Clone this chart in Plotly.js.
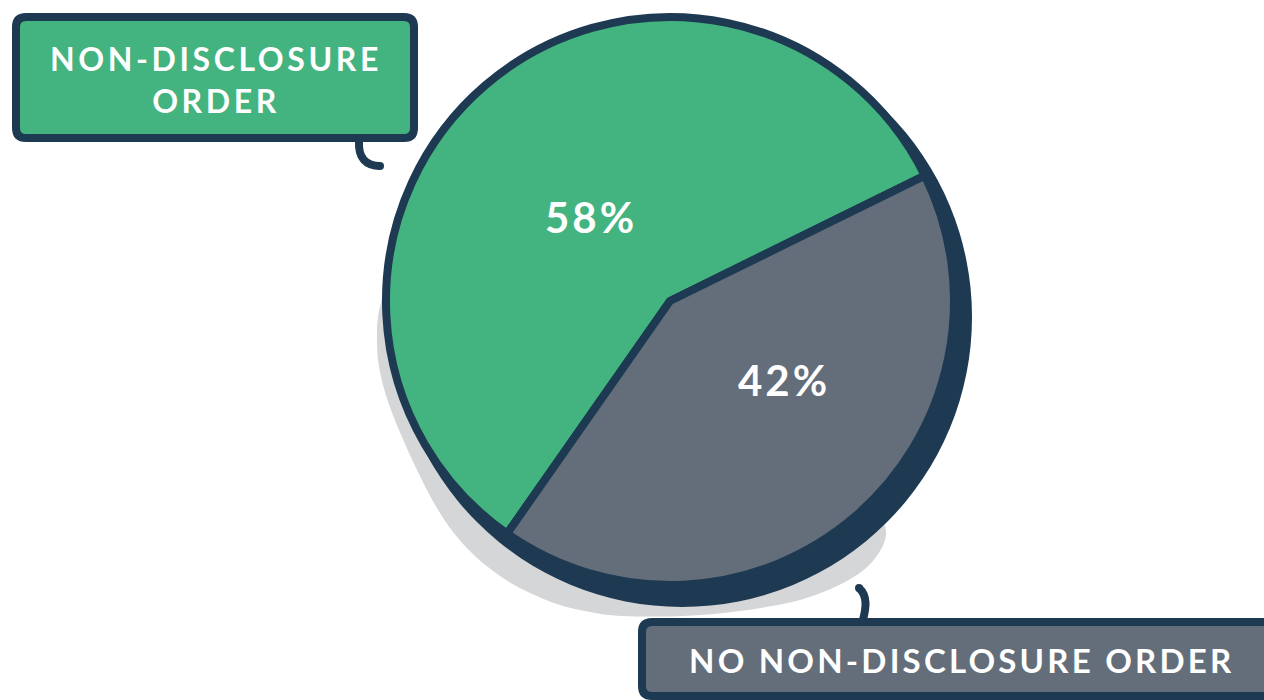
<!DOCTYPE html>
<html>
<head>
<meta charset="utf-8">
<script src="https://cdn.plot.ly/plotly-3.0.1.min.js"></script>
<style>
  html, body { margin: 0; padding: 0; background: #ffffff; }
  #chart { width: 1264px; height: 700px; }
</style>
</head>
<body>
<div id="chart"></div>
<script>
// ---- data ----
const categories = ["Non-disclosure order", "No non-disclosure order"];
const values = [58, 42];
const sliceColors = ["#43b47f", "#636e7a"];
const boxLabels = ["NON-DISCLOSURE<br>ORDER", "NO NON-DISCLOSURE ORDER"];

// ---- styling helpers ----
const W = 1264, H = 700;
const NAVY = "#1e3a52";
const px = x => x / W;
const py = y => 1 - y / H;
const pt = p => `${px(p[0])},${py(p[1])}`;

function roundRect(x0, y0, x1, y1, r) {
  return `M ${px(x0 + r)},${py(y0)} L ${px(x1 - r)},${py(y0)} ` +
    `Q ${px(x1)},${py(y0)} ${px(x1)},${py(y0 + r)} L ${px(x1)},${py(y1 - r)} ` +
    `Q ${px(x1)},${py(y1)} ${px(x1 - r)},${py(y1)} L ${px(x0 + r)},${py(y1)} ` +
    `Q ${px(x0)},${py(y1)} ${px(x0)},${py(y1 - r)} L ${px(x0)},${py(y0 + r)} ` +
    `Q ${px(x0)},${py(y0)} ${px(x0 + r)},${py(y0)} Z`;
}
function circ(cx, cy, r, color, layer) {
  return { type: "circle", xref: "paper", yref: "paper", layer: layer,
    x0: px(cx - r), x1: px(cx + r), y0: py(cy + r), y1: py(cy - r),
    fillcolor: color, line: { width: 0 } };
}
function spaced(t, ls) {
  return t.split("<br>").map(s => `<span style="letter-spacing:${ls}px">${s}</span>`).join("<br>");
}
function smoothPath(p) {
  let d = "M " + pt(p[0]);
  for (let i = 0; i < p.length - 1; i++) {
    const a = p[Math.max(i - 1, 0)], b = p[i], c = p[i + 1], e = p[Math.min(i + 2, p.length - 1)];
    const c1 = [b[0] + (c[0] - a[0]) / 6, b[1] + (c[1] - a[1]) / 6];
    const c2 = [c[0] - (e[0] - b[0]) / 6, c[1] - (e[1] - b[1]) / 6];
    d += ` C ${pt(c1)} ${pt(c2)} ${pt(c)}`;
  }
  return d;
}

// pie geometry (pixels)
const CX = 670, CY = 301, R = 284;

// soft drop-shadow outline (decoration, pixels)
const shadowPts = [[395,240],[384,290],[378,317],[377,337],[378,360],[383,385],[391,410],[402,437],[417,470],
  [434,503],[453,532],[476,557],[503,578],[530,593],[560,605],[590,612],[622,616],[683,616],
  [740,611],[800,600],[845,582],[872,562],[886,535],[878,505]];
const shadowPath = smoothPath(shadowPts) + ` L ${pt([700, 320])} Z`;

const trace = {
  type: "pie",
  labels: categories,
  values: values,
  sort: false,
  direction: "clockwise",
  rotation: -145,
  marker: { colors: sliceColors, line: { color: NAVY, width: 8 } },
  textinfo: "none",
  hoverinfo: "skip",
  domain: { x: [px(CX - R), px(CX + R)], y: [py(CY + R), py(CY - R)] }
};

const shapes = [
  { type: "path", xref: "paper", yref: "paper", layer: "below",
    path: shadowPath, fillcolor: "#d5d6d8", line: { width: 0 } },
  circ(682, 317, 290, NAVY, "below"),
  // green callout
  { type: "path", xref: "paper", yref: "paper", layer: "above",
    path: roundRect(16, 17, 414, 138, 10), fillcolor: sliceColors[0], line: { color: NAVY, width: 8 } },
  { type: "path", xref: "paper", yref: "paper", layer: "above",
    path: `M ${px(359)},${py(141)} C ${px(358)},${py(158)} ${px(366)},${py(166)} ${px(380)},${py(166)}`,
    line: { color: NAVY, width: 8 } },
  circ(380, 166, 4, NAVY, "above"),
  // gray callout
  { type: "path", xref: "paper", yref: "paper", layer: "above",
    path: roundRect(642, 622, 1290, 696, 10), fillcolor: sliceColors[1], line: { color: NAVY, width: 8 } },
  { type: "path", xref: "paper", yref: "paper", layer: "above",
    path: `M ${px(863)},${py(620)} C ${px(866)},${py(608)} ${px(868)},${py(596)} ${px(859)},${py(588)}`,
    line: { color: NAVY, width: 8 } },
  circ(859, 588, 4, NAVY, "above")
];

const font = (size) => ({ family: "Lato, 'Open Sans', sans-serif", size: size, color: "#ffffff", weight: 700 });

const annotations = [
  { xref: "paper", yref: "paper", x: px(216), y: py(79), xanchor: "center", yanchor: "middle",
    text: spaced(boxLabels[0], 3.6), showarrow: false, font: font(32) },
  { xref: "paper", yref: "paper", x: px(962), y: py(660), xanchor: "center", yanchor: "middle",
    text: spaced(boxLabels[1], 3.2), showarrow: false, font: font(33) },
  { xref: "paper", yref: "paper", x: px(591), y: py(217), xanchor: "center", yanchor: "middle",
    text: spaced(values[0] + "%", 3), showarrow: false, font: font(42) },
  { xref: "paper", yref: "paper", x: px(784), y: py(380), xanchor: "center", yanchor: "middle",
    text: spaced(values[1] + "%", 3), showarrow: false, font: font(42) }
];

const layout = {
  width: W, height: H,
  margin: { l: 0, r: 0, t: 0, b: 0, pad: 0 },
  paper_bgcolor: "#ffffff",
  plot_bgcolor: "#ffffff",
  showlegend: false,
  hovermode: false,
  shapes: shapes,
  annotations: annotations
};

Plotly.newPlot("chart", [trace], layout, { displayModeBar: false, staticPlot: true });
</script>
</body>
</html>
